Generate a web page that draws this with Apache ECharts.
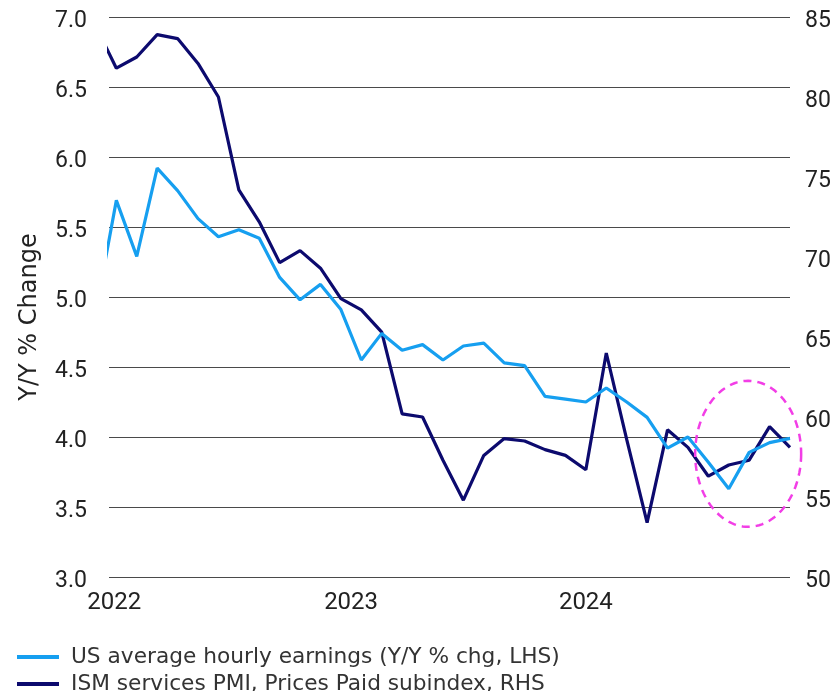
<!DOCTYPE html>
<html>
<head>
<meta charset="utf-8">
<script src="https://cdn.jsdelivr.net/npm/echarts@6/dist/echarts.min.js"></script>
<style>
  html, body { margin: 0; padding: 0; background: #fff; }
  #box01 { width: 840px; height: 691px; }
</style>
</head>
<body>
<div id="box01"></div>
<script>
// monthly data, Dec 2021 .. Oct 2024 (Dec 2021 sits just left of the axis, clipped)
var months = [
    '2021-12',
    '2022-01','2022-02','2022-03','2022-04','2022-05','2022-06','2022-07','2022-08','2022-09','2022-10','2022-11','2022-12',
    '2023-01','2023-02','2023-03','2023-04','2023-05','2023-06','2023-07','2023-08','2023-09','2023-10','2023-11','2023-12',
    '2024-01','2024-02','2024-03','2024-04','2024-05','2024-06','2024-07','2024-08','2024-09','2024-10'
];
// US average hourly earnings, Y/Y % chg (LHS)
var earnings = [
    4.90,
    5.69, 5.29, 5.92, 5.76, 5.56, 5.43, 5.48, 5.42, 5.14, 4.98, 5.09, 4.91,
    4.55, 4.74, 4.62, 4.66, 4.55, 4.65, 4.67, 4.53, 4.51, 4.29, 4.27, 4.25,
    4.35, 4.25, 4.14, 3.92, 4.00, 3.82, 3.63, 3.89, 3.96, 3.99
];
// ISM services PMI, prices paid subindex (RHS)
var ismPrices = [
    84.4,
    81.8, 82.5, 83.9, 83.65, 82.1, 80.0, 74.2, 72.2, 69.65, 70.4, 69.3, 67.4,
    66.7, 65.3, 60.2, 60.0, 57.3, 54.8, 57.6, 58.65, 58.5, 57.96, 57.6, 56.7,
    64.0, 58.6, 53.4, 59.2, 58.1, 56.3, 57.0, 57.3, 59.4, 58.1
];
var yearLabels = ['2022', '2023', '2024'];
var seriesNames = ['US average hourly earnings (Y/Y % chg, LHS)', 'ISM services PMI, Prices Paid subindex, RHS'];

var FONT = 'Roboto, "Liberation Sans", sans-serif';
var TEXT_FONT = '"DejaVu Sans", "Open Sans", sans-serif';
var LIGHT = '#169ff0';
var DARK = '#0c0a6e';

function toPairs(values) {
    var out = [];
    for (var i = 0; i < months.length; i++) {
        out.push([i - 1, values[i]]);   // Jan 2022 = 0
    }
    return out;
}

// one legend box per row so nothing wraps
function legendRow(name, top) {
    return {
        left: 17,
        top: top,
        padding: 0,
        icon: 'rect',
        itemWidth: 42,
        itemHeight: 4,
        textStyle: { fontFamily: TEXT_FONT, fontSize: 21.7, color: '#333', padding: [0, 0, 0, 7] },
        data: [name]
    };
}

var myChart = echarts.init(document.getElementById('box01'));

var option = {
    backgroundColor: '#fff',
    animation: false,
    textStyle: { fontFamily: FONT },
    grid: { left: 109, right: 50, top: 17, bottom: 114, containLabel: false },
    legend: [legendRow(seriesNames[0], 646), legendRow(seriesNames[1], 673)],
    xAxis: {
        type: 'value',
        min: -0.36,
        max: 33,
        axisLine: { show: false },
        axisTick: { show: false },
        splitLine: { show: false },
        axisLabel: { show: false }
    },
    yAxis: [
        {
            type: 'value',
            min: 3,
            max: 7,
            interval: 0.5,
            axisLine: { show: false },
            axisTick: { show: false },
            splitLine: { lineStyle: { color: '#4a4a4a', width: 1.2 } },
            axisLabel: {
                formatter: function (v) { return v.toFixed(1); },
                fontFamily: FONT,
                fontSize: 23,
                color: '#222',
                margin: 22,
                verticalAlign: 'top',
                lineHeight: 8
            }
        },
        {
            type: 'value',
            min: 50,
            max: 85,
            interval: 5,
            position: 'right',
            axisLine: { show: false },
            axisTick: { show: false },
            splitLine: { show: false },
            axisLabel: {
                fontFamily: FONT,
                fontSize: 23,
                color: '#222',
                margin: 15,
                verticalAlign: 'top',
                lineHeight: 8
            }
        }
    ],
    series: [
        {
            name: seriesNames[0],
            type: 'line',
            yAxisIndex: 0,
            data: toPairs(earnings),
            showSymbol: false,
            symbol: 'none',
            lineStyle: { color: LIGHT, width: 3.2 },
            itemStyle: { color: LIGHT },
            z: 3
        },
        {
            name: seriesNames[1],
            type: 'line',
            yAxisIndex: 1,
            data: toPairs(ismPrices),
            showSymbol: false,
            symbol: 'none',
            lineStyle: { color: DARK, width: 3.2 },
            itemStyle: { color: DARK },
            z: 2
        }
    ]
};
myChart.setOption(option);

// year labels sit under the axis, roughly at each year's start
var yearPos = [-0.1, 11.5, 23];
var graphics = [{
    type: 'text',
    x: 30,
    y: 317,
    rotation: Math.PI / 2,
    style: {
        text: 'Y/Y % Change',
        font: '24px ' + TEXT_FONT,
        fill: '#222',
        align: 'center',
        verticalAlign: 'middle'
    }
}];
for (var j = 0; j < yearLabels.length; j++) {
    var p = myChart.convertToPixel({ xAxisIndex: 0, yAxisIndex: 0 }, [yearPos[j], 3]);
    graphics.push({
        type: 'text',
        x: p[0],
        y: p[1] + 14,
        style: {
            text: yearLabels[j],
            font: '24px ' + FONT,
            fill: '#222',
            align: 'center',
            verticalAlign: 'top'
        }
    });
}

// dashed highlight ellipse round the latest readings
var c = myChart.convertToPixel({ xAxisIndex: 0, yAxisIndex: 1 }, [30.95, 57.7]);
var pts = [];
for (var k = 0; k < 120; k++) {
    var t = k / 120 * Math.PI * 2;
    pts.push([c[0] + 53 * Math.cos(t), c[1] + 73 * Math.sin(t)]);
}
graphics.push({
    type: 'polygon',
    shape: { points: pts },
    style: { fill: 'none', stroke: '#f23ee6', lineWidth: 2.5, lineDash: [8, 6] },
    z: 10
});
myChart.setOption({ graphic: graphics });
</script>
</body>
</html>
